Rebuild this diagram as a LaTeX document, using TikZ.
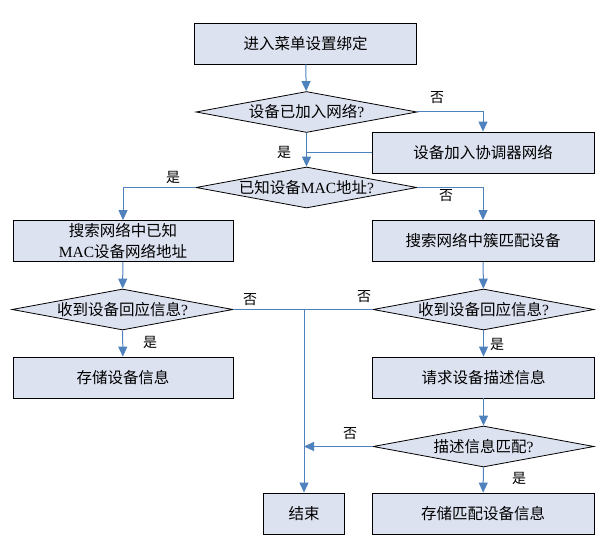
\documentclass[tikz,border=0pt]{standalone}
\usepackage{fontspec}
\setmainfont{Noto Sans CJK SC}
\newfontfamily\latinserif{Liberation Serif}
\usetikzlibrary{shapes.geometric, arrows.meta, positioning}
\definecolor{boxfill}{RGB}{221, 226, 240}
\definecolor{flowblue}{RGB}{79, 129, 189}
\tikzset{
  stepbox/.style={draw=black, line width=0.8pt, fill=boxfill, minimum width=222pt, minimum height=41pt,
    inner sep=2pt, align=center, font=\fontsize{15.5}{21}\selectfont},
  decision/.style={diamond, draw=black, line width=0.8pt, fill=boxfill, aspect=5.5, inner sep=0pt,
    minimum width=221pt, minimum height=41pt, font=\fontsize{15.5}{19}\selectfont},
  flow/.style={draw=flowblue, line width=1pt, -{Triangle[length=10pt, width=9pt]}},
  link/.style={draw=flowblue, line width=1pt},
  answer/.style={font=\fontsize{14}{16}\selectfont}
}

\begin{document}
\begin{tikzpicture}[x=1pt, y=-1pt]
  \useasboundingbox (0,0) rectangle (614,548);

  % Steps and decisions
  \node[stepbox] (start) at (305.5, 43.5) {进入菜单设置绑定};
  \node[decision] (joined) at (306.5, 112) {设备已加入网络{\latinserif ?}};
  \node[stepbox] (addnet) at (483, 152.5) {设备加入协调器网络};
  \node[decision] (knownmac) at (306.5, 187.5) {已知设备{\latinserif MAC}地址{\latinserif ?}};
  \node[stepbox, minimum width=220pt] (searchmac) at (123, 241) {搜索网络中已知\\{\latinserif MAC}设备网络地址};
  \node[stepbox] (searchclu) at (483, 241) {搜索网络中簇匹配设备};
  \node[decision] (respl) at (122.5, 309.5) {收到设备回应信息{\latinserif ?}};
  \node[decision] (respr) at (483.5, 309.5) {收到设备回应信息{\latinserif ?}};
  \node[stepbox, minimum width=220pt] (storel) at (123, 377.5) {存储设备信息};
  \node[stepbox] (reqdesc) at (483.5, 377.5) {请求设备描述信息};
  \node[decision] (match) at (483.5, 446.5) {描述信息匹配{\latinserif ?}};
  \node[stepbox, minimum width=81pt] (finish) at (304, 513.5) {结束};
  \node[stepbox] (storem) at (483, 513.5) {存储匹配设备信息};

  % Connectors
  \draw[flow] (start) -- (joined);
  \draw[flow] (joined.east) -- (addnet.north |- joined.east) -- (addnet.north);
  \draw[link] (addnet.west) -- (joined.south |- addnet.west);
  \draw[flow] (joined) -- (knownmac);
  \draw[flow] (knownmac.west) -- (searchmac.north |- knownmac.west) -- (searchmac.north);
  \draw[flow] (knownmac.east) -- (searchclu.north |- knownmac.east) -- (searchclu.north);
  \draw[flow] (searchmac) -- (respl);
  \draw[flow] (searchclu) -- (respr);
  \draw[link] (respl.east) -- (respr.west);
  \coordinate (split) at (finish.north |- respl.east);
  \draw[flow] (split) -- (finish);
  \draw[flow] (respl) -- (storel);
  \draw[flow] (respr) -- (reqdesc);
  \draw[flow] (reqdesc) -- (match);
  \draw[flow] (match.west) -- (finish.north |- match.west);
  \draw[flow] (match) -- (storem);

  % Yes / no labels
  \node[answer] (no1) at (437, 98) {否};
  \node[answer] (yes1) at (284, 152) {是};
  \node[answer] (yes2) at (173, 177) {是};
  \node[answer] (no2) at (446, 196) {否};
  \node[answer] (no3) at (250, 300) {否};
  \node[answer] (no4) at (364, 297) {否};
  \node[answer] (yes3) at (150, 342) {是};
  \node[answer] (yes4) at (497, 344) {是};
  \node[answer] (no5) at (350, 434) {否};
  \node[answer] (yes5) at (519, 478) {是};
\end{tikzpicture}
\end{document}
